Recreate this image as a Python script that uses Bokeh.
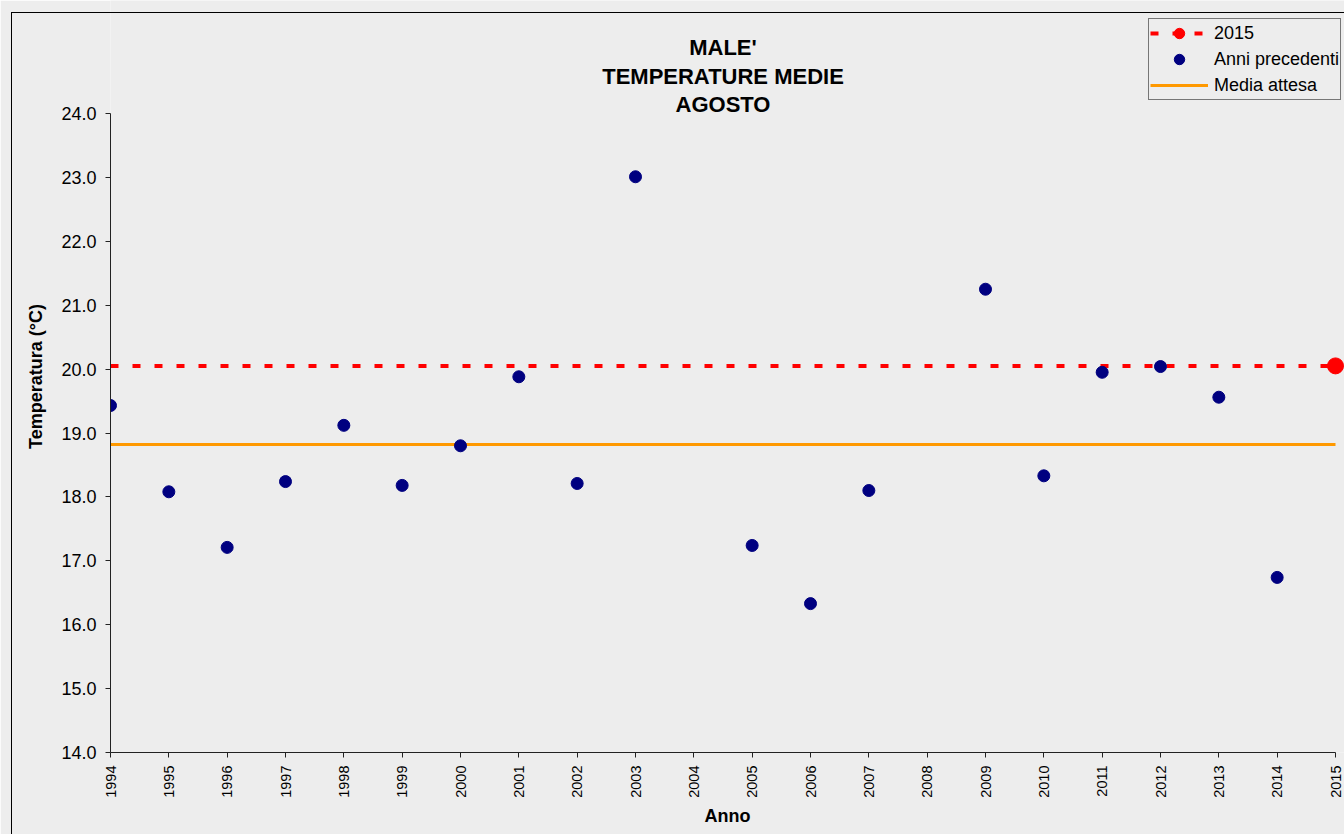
from bokeh.plotting import figure
from bokeh.models import (Range1d, FixedTicker, NumeralTickFormatter, Legend, LegendItem,
                          Label, InlineStyleSheet)
from bokeh.embed import file_html
from bokeh.resources import INLINE
import math

# ---- data ----
years_prev = [1994, 1995, 1996, 1997, 1998, 1999, 2000, 2001, 2002, 2003,
              2005, 2006, 2007, 2009, 2010, 2011, 2012, 2013, 2014]
temps_prev = [19.43, 18.08, 17.21, 18.24, 19.12, 18.18, 18.80, 19.88, 18.21, 23.01,
              17.24, 16.33, 18.10, 21.25, 18.33, 19.95, 20.04, 19.56, 16.74]
year_cur = [2015]
temp_cur = [20.05]
media_attesa = 18.82
x_ticks = list(range(1994, 2016))
y_ticks = [14, 15, 16, 17, 18, 19, 20, 21, 22, 23, 24]
title_lines = ["MALE'", "TEMPERATURE MEDIE", "AGOSTO"]

BG = "#ededed"
FONT = "Liberation Sans"

# frame spans the top of the canvas so title and legend can sit above the axis range
W, H = 1344, 834
LEFT, BOTTOM = 110, 82
px_per_deg = 63.9
px_per_year = 1225 / 21.0
y_top = 24 + (H - BOTTOM - (752 - 113)) / px_per_deg
x_end = 2015 + (W - LEFT - 1225) / px_per_year

p = figure(width=W, height=H, output_backend="svg", toolbar_location=None,
           x_range=Range1d(1994, x_end), y_range=Range1d(14, y_top),
           min_border_left=LEFT, min_border_right=0, min_border_top=0, min_border_bottom=BOTTOM)
p.background_fill_color = BG
p.border_fill_color = BG
p.outline_line_color = None
p.grid.visible = False
p.stylesheets = [InlineStyleSheet(css=":host::after{content:'';position:absolute;left:11px;top:12px;"
                                  "right:0;bottom:0;border-left:1px solid #000;border-top:1px solid #000;"
                                  "pointer-events:none;}")]

# axes
p.xaxis.ticker = FixedTicker(ticks=x_ticks)
p.xaxis.bounds = (x_ticks[0], x_ticks[-1])
p.xaxis.major_label_orientation = math.pi / 2
p.yaxis.ticker = FixedTicker(ticks=y_ticks)
p.yaxis.bounds = (y_ticks[0], y_ticks[-1])
p.yaxis.formatter = NumeralTickFormatter(format="0.0")
for ax in (p.xaxis, p.yaxis):
    ax.axis_line_color = "#222222"
    ax.major_tick_line_color = "#222222"
    ax.major_tick_out = 5
    ax.major_tick_in = 0
    ax.minor_tick_line_color = None
    ax.major_label_text_font = FONT
    ax.major_label_text_color = "black"
    ax.axis_label_text_font = FONT
    ax.axis_label_text_font_style = "bold"
    ax.axis_label_text_color = "black"
p.xaxis.major_label_text_font_size = "14.5px"
p.yaxis.major_label_text_font_size = "18px"
p.xaxis.major_label_standoff = 8
p.yaxis.major_label_standoff = 9
p.xaxis.axis_label = "Anno"
p.yaxis.axis_label = "Temperatura (°C)"
p.xaxis.axis_label_text_font_size = "18px"
p.yaxis.axis_label_text_font_size = "18px"
p.xaxis.axis_label_standoff = 5
p.yaxis.axis_label_standoff = 12

# lines
r_media = p.line([x_ticks[0], x_ticks[-1]], [media_attesa, media_attesa],
                 line_color="#FF9900", line_width=3)
r_cur_line = p.line([x_ticks[0], x_ticks[-1]], [temp_cur[0], temp_cur[0]],
                    line_color="#FF0000", line_width=4, line_dash="8 14")
r_prev = p.scatter(years_prev, temps_prev, size=12, marker="circle",
                   fill_color="#000080", line_color="#000080")
r_cur = p.scatter(year_cur, temp_cur, size=16, marker="circle",
                  fill_color="#FF0000", line_color="#FF0000")

# title lines (inside frame, above the axis range)
for txt, ypx in zip(title_lines, [47, 76, 104]):
    p.add_layout(Label(x=2004.5, y=24 + (113 - ypx) / px_per_deg, text=txt,
                       text_align="center", text_baseline="middle",
                       text_font=FONT, text_font_style="bold", text_font_size="22px",
                       text_color="black"))

legend = Legend(items=[
    LegendItem(label="2015", renderers=[r_cur_line, r_cur]),
    LegendItem(label="Anni precedenti", renderers=[r_prev]),
    LegendItem(label="Media attesa", renderers=[r_media]),
], location=(1148 - LEFT, (H - BOTTOM) - 100))
legend.label_text_font = FONT
legend.label_text_font_size = "18px"
legend.label_text_color = "black"
legend.glyph_width = 58
legend.glyph_height = 26
legend.label_height = 26
legend.spacing = 0
legend.padding = 1
legend.margin = 0
legend.label_standoff = 6
legend.border_line_color = "black"
legend.border_line_width = 1
legend.background_fill_color = BG
legend.background_fill_alpha = 1
p.add_layout(legend, "center")

open("out.html", "w").write(file_html(p, INLINE))
